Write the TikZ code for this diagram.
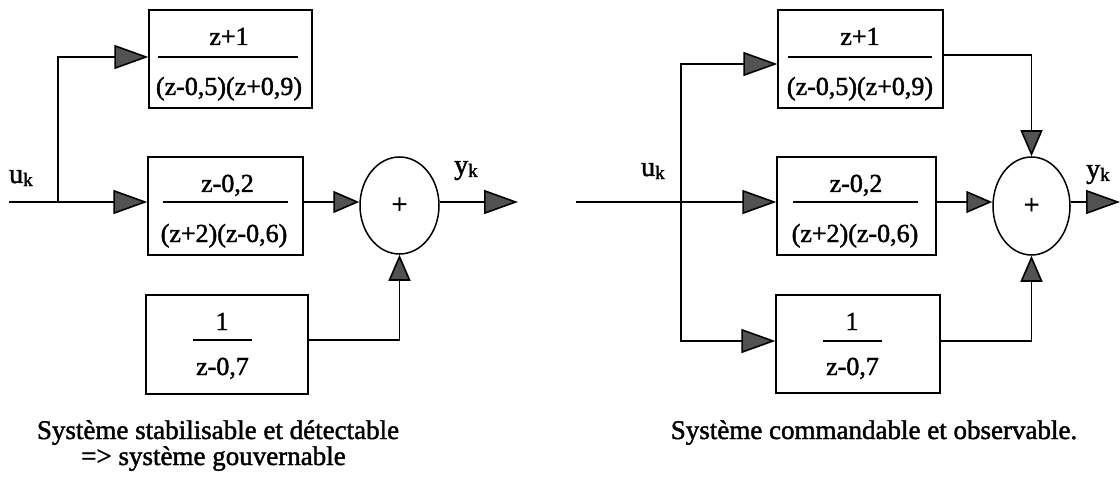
\documentclass[tikz,border=0pt]{standalone}
\usepackage{fontspec}
\setmainfont{Liberation Serif}
\newfontfamily\scanfont{Liberation Serif}[FakeBold=1.6]
\usetikzlibrary{arrows.meta,shapes.geometric}
\begin{document}
\begin{tikzpicture}[x=1pt,y=-1pt,
  box/.style={draw,line width=1.3pt,inner sep=0pt,minimum height=98pt},
  txt/.style={inner sep=0pt,anchor=base,font=\scanfont\fontsize{26}{28}\selectfont},
  fracrule/.style={line width=2pt},
  conn/.style={line width=1.6pt},
  big/.style={-{Triangle[length=34pt,width=24pt,fill=black!68]}},
  small/.style={-{Triangle[length=26pt,width=22pt,fill=black!68]}},
  sum/.style={draw,ellipse,line width=1.5pt,inner sep=0pt,font=\scanfont\fontsize{28}{30}\selectfont},
  lab/.style={inner sep=0pt,anchor=base west,font=\scanfont\fontsize{28}{30}\selectfont},
  captext/.style={inner sep=0pt,anchor=base,font=\scanfont\fontsize{27}{29}\selectfont}]
\newcommand{\sbk}{\raisebox{-3pt}{\fontsize{19}{19}\selectfont k}}
\useasboundingbox (0,0) rectangle (1120,484);

% ---------------- left diagram ----------------
\node[box,minimum width=163pt] (T1) at (230.5,59) {};
\node[box,minimum width=155pt] (M1) at (225.5,206) {};
\node[box,minimum width=162pt,minimum height=99pt] (B1) at (227,344.5) {};
\node[sum,minimum width=79pt,minimum height=97pt] (S1) at (399.5,205.5) {+};

\node[txt] (T1n) at (229,45) {z+1};
\node[txt] (T1d) at (229,95) {(z-0,5)(z+0,9)};
\draw[fracrule] (158,57) -- (298,57);
\node[txt] (M1n) at (227.5,192) {z-0,2};
\node[txt] (M1d) at (224,242) {(z+2)(z-0,6)};
\draw[fracrule] (163,202) -- (288,202);
\node[txt] (B1n) at (222,330) {1};
\node[txt] (B1d) at (222.5,375) {z-0,7};
\draw[fracrule] (193,340) -- (252,340);

\coordinate (in1) at (9,202);
\coordinate (j1) at (58,202);
\coordinate (out1) at (518,202);
\node[lab] (uk1) at (9,183) {u\sbk};
\node[lab] (yk1) at (454,174) {y\sbk};

\draw[conn,big] (in1) -- (M1.west |- in1);
\draw[conn,big] (j1) |- ([yshift=2pt]T1.west);
\draw[conn,small] (M1.east |- in1) -- (S1.west |- in1);
\draw[conn,big] (S1.east |- in1) -- (out1);
\draw[conn,small] ([yshift=4.5pt]B1.east) -| (S1.south);

\node[captext] (c1a) at (218,439) {Système stabilisable et détectable};
\node[captext] (c1b) at (213.5,465) {=> système gouvernable};

% ---------------- right diagram ----------------
\node[box,minimum width=165pt] (T2) at (860.5,59) {};
\node[box,minimum width=159pt] (M2) at (856.5,206) {};
\node[box,minimum width=164pt] (B2) at (858,344) {};
\node[sum,minimum width=77pt,minimum height=98pt] (S2) at (1031.5,206) {+};

\node[txt] (T2n) at (860,45) {z+1};
\node[txt] (T2d) at (860,95) {(z-0,5)(z+0,9)};
\draw[fracrule] (788,57) -- (932,57);
\node[txt] (M2n) at (856,192) {z-0,2};
\node[txt] (M2d) at (855,242) {(z+2)(z-0,6)};
\draw[fracrule] (793,202) -- (918,202);
\node[txt] (B2n) at (852,330) {1};
\node[txt] (B2d) at (852.5,375) {z-0,7};
\draw[fracrule] (823,341) -- (882,341);

\coordinate (in2) at (576,202);
\coordinate (j2) at (681,202);
\coordinate (out2) at (1120,202);
\node[lab] (uk2) at (641,176) {u\sbk};
\node[lab] (yk2) at (1086,178) {y\sbk};

\draw[conn,big] (in2) -- (M2.west |- in2);
\draw[conn,big] (j2) |- ([yshift=-5pt]T2.west);
\draw[conn,big] (j2) |- ([yshift=3pt]B2.west);
\draw[conn,small] (M2.east |- in2) -- (S2.west |- in2);
\draw[conn,big] (S2.east |- in2) -- (out2);
\draw[conn,small] ([yshift=4pt]T2.east) -| (S2.north);
\draw[conn,small] ([yshift=3pt]B2.east) -| (S2.south);

\node[captext] (c2) at (874,439) {Système commandable et observable.};
\end{tikzpicture}
\end{document}
